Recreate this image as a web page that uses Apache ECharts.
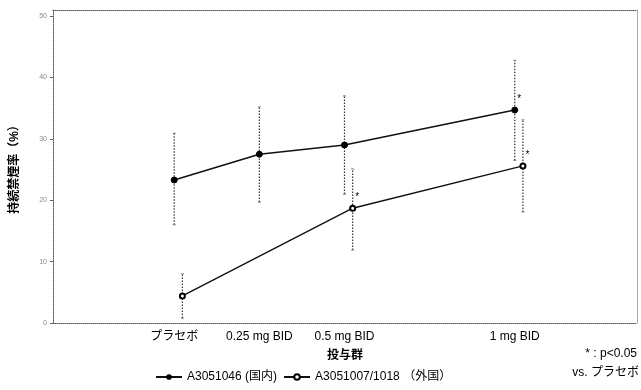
<!DOCTYPE html>
<html><head><meta charset="utf-8">
<script src="https://cdn.jsdelivr.net/npm/echarts@6/dist/echarts.min.js"></script>
<style>html,body{margin:0;padding:0;background:#fff}#c{width:641px;height:390px}</style>
</head><body><div id="c"></div>
<script>
const doses = [0, 0.25, 0.5, 1];
const doseLabels = ['プラセボ', '0.25 mg BID', '0.5 mg BID', '1 mg BID'];
const yTicks = [0, 10, 20, 30, 40, 50];

const s1Name = 'A3051046 (国内)';
const s1Mean = [23.3, 27.5, 29.0, 34.7];
const s1Low  = [16.0, 19.7, 21.0, 26.5];
const s1High = [30.9, 35.2, 37.0, 42.8];
const s1Sig  = [false, false, false, true];

const s2Name = 'A3051007/1018 （外国）';
const s2Mean = [4.4, null, 18.7, 25.6];
const s2Low  = [0.8, null, 11.9, 18.1];
const s2High = [8.0, null, 25.1, 33.1];
const s2Sig  = [false, false, true, true];

const DODGE = 0.024;
const F = '"Liberation Sans", "Noto Sans CJK JP", sans-serif';

function pts(mean, sig, dx) {
  const out = [];
  doses.forEach((d, i) => { if (mean[i] != null) out.push({value: [d + dx, mean[i]], sig: sig[i]}); });
  return out;
}
function errs(low, high, dx) {
  const out = [];
  doses.forEach((d, i) => { if (low[i] != null) out.push([d + dx, low[i], high[i]]); });
  return out;
}
function errSeries(data) {
  return {
    type: 'custom', data: data, silent: true, z: 1,
    renderItem: function (params, api) {
      const x = api.value(0);
      const lo = api.coord([x, api.value(1)]);
      const hi = api.coord([x, api.value(2)]);
      const st = {stroke: '#333', lineWidth: 1.2, lineDash: [1.5, 1.5]};
      return {type: 'group', children: [
        {type: 'line', shape: {x1: lo[0], y1: lo[1], x2: hi[0], y2: hi[1]}, style: st},
        {type: 'line', shape: {x1: lo[0] - 1.5, y1: lo[1], x2: lo[0] + 1.5, y2: lo[1]}, style: {stroke: '#777', lineWidth: 1}},
        {type: 'line', shape: {x1: hi[0] - 1.5, y1: hi[1], x2: hi[0] + 1.5, y2: hi[1]}, style: {stroke: '#777', lineWidth: 1}}
      ]};
    }
  };
}
const starLabel = {
  show: true, position: [6, -12], color: '#000', fontSize: 10, fontFamily: F,
  formatter: p => (p.data.sig ? '*' : '')
};
const frameLine = {show: true, onZero: false, lineStyle: {color: '#555', type: 'dotted', width: 1}};

const chart = echarts.init(document.getElementById('c'));
chart.setOption({
  animation: false,
  backgroundColor: '#fff',
  grid: {left: 53, right: 4, top: 10, bottom: 67},
  legend: {
    bottom: 2, left: 150, itemGap: 6, itemWidth: 26, itemHeight: 7,
    textStyle: {color: '#000', fontSize: 12, fontFamily: F},
    data: [s1Name, s2Name]
  },
  xAxis: [{
    type: 'value', min: -0.356, max: 1.359,
    name: '投与群', nameLocation: 'middle', nameGap: 27,
    nameTextStyle: {color: '#000', fontSize: 12, fontFamily: F, fontWeight: 'bold'},
    axisLine: frameLine,
    axisTick: {show: false},
    splitLine: {show: false},
    axisLabel: {customValues: doses, color: '#000', fontSize: 12, fontFamily: F, margin: 8,
      formatter: v => { const i = doses.indexOf(v); return i >= 0 ? doseLabels[i] : ''; }}
  }, {
    type: 'value', position: 'top', min: -0.356, max: 1.359,
    axisLine: frameLine,
    axisTick: {show: false}, axisLabel: {show: false}, splitLine: {show: false}
  }],
  yAxis: [{
    type: 'value', min: 0, max: 51,
    name: '持続禁煙率（%）', nameLocation: 'middle', nameGap: 32, nameRotate: 90,
    nameTextStyle: {color: '#000', fontSize: 12, fontFamily: F, fontWeight: 'bold'},
    axisLine: frameLine,
    axisTick: {show: true, customValues: yTicks, length: 3, lineStyle: {color: '#666'}},
    splitLine: {show: false},
    axisLabel: {customValues: yTicks, color: '#888', fontSize: 7, fontFamily: F, margin: 6}
  }, {
    type: 'value', position: 'right', min: 0, max: 51,
    axisLine: {show: true, onZero: false, lineStyle: {color: '#999', type: 'dotted', width: 1}},
    axisTick: {show: false}, axisLabel: {show: false}, splitLine: {show: false}
  }],
  graphic: [{
    type: 'text', right: 4, bottom: 30,
    style: {text: '* : p<0.05', fill: '#000', fontSize: 12, fontFamily: F}
  }, {
    type: 'text', right: 2, bottom: 11,
    style: {text: 'vs. プラセボ', fill: '#000', fontSize: 12, fontFamily: F}
  }],
  series: [
    errSeries(errs(s1Low, s1High, 0)),
    errSeries(errs(s2Low, s2High, DODGE)),
    {
      name: s1Name, type: 'line', data: pts(s1Mean, s1Sig, 0), z: 3,
      symbol: 'circle', symbolSize: 6,
      lineStyle: {color: '#111', width: 1.6},
      itemStyle: {color: '#000', borderColor: '#000'},
      label: starLabel
    },
    {
      name: s2Name, type: 'line', data: pts(s2Mean, s2Sig, DODGE), z: 3,
      symbol: 'emptyCircle', symbolSize: 5,
      lineStyle: {color: '#111', width: 1.4},
      itemStyle: {color: '#000', borderColor: '#000', borderWidth: 1},
      label: starLabel
    }
  ]
});
</script></body></html>
